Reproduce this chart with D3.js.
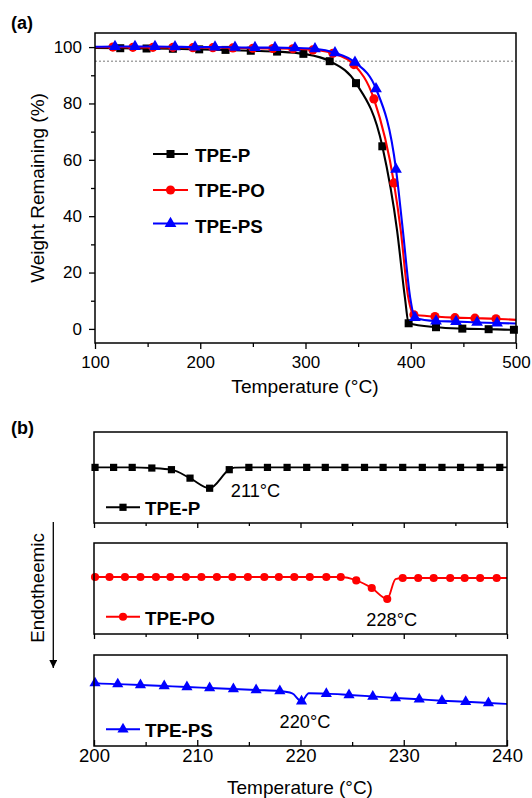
<!DOCTYPE html>
<html>
<head>
<meta charset="utf-8">
<script src="https://cdn.jsdelivr.net/npm/d3@7"></script>
<style>
  body { margin: 0; background: #fff; }
  svg text { font-family: "Liberation Sans", Arial, Helvetica, sans-serif; fill: #000; }
</style>
</head>
<body>
<svg id="fig" width="532" height="798"></svg>
<script>
// ---------- (a) TGA: temperature (°C) vs weight remaining (%) ----------
// marked points
const tgaP_T  = [124, 149, 174, 199, 224, 248, 273, 298, 323, 348, 373, 398, 424, 449, 474, 498];
const tgaP_W  = [99.6, 99.5, 99.4, 99.2, 99.0, 98.7, 98.4, 97.6, 95.0, 87.2, 64.8, 2.0, 0.6, 0.1, -0.1, -0.3];
const tgaPO_T = [117, 136, 155, 174, 193, 212, 231, 250, 269, 288, 307, 326, 346, 365, 384, 403, 423, 442, 461, 481];
const tgaPO_W = [100.0, 99.9, 99.9, 99.9, 99.8, 99.8, 99.7, 99.6, 99.5, 99.4, 99.0, 97.8, 93.8, 81.6, 51.8, 5.0, 4.4, 4.0, 3.8, 3.6];
const tgaPS_T = [119, 138, 157, 176, 195, 214, 233, 252, 271, 290, 309, 328, 347, 367, 386, 404, 424, 443, 463, 482];
const tgaPS_W = [100.2, 100.2, 100.2, 100.1, 100.0, 100.0, 99.9, 99.8, 99.8, 99.7, 99.4, 98.0, 94.6, 85.2, 56.6, 4.0, 2.8, 2.6, 2.3, 2.1];
// unmarked trace points (ends of the scan and the steep decomposition step)
const tgaP_traceT  = [100, 387, 394.5, 500];
const tgaP_traceW  = [99.7, 35, 11, -0.3];
const tgaPO_traceT = [100, 390.5, 397.5, 500];
const tgaPO_traceW = [100.0, 35, 11.5, 3.2];
const tgaPS_traceT = [100, 392.5, 399.5, 500];
const tgaPS_traceW = [100.1, 35, 11, 1.9];

const tgaXTicks = [100, 200, 300, 400, 500];
const tgaXMinor = [150, 250, 350, 450];
const tgaYTicks = [0, 20, 40, 60, 80, 100];
const tgaYMinor = [10, 30, 50, 70, 90];
const tgaRefLevel = 95;

// ---------- (b) DSC: temperature (°C) vs heat flow (a.u.) ----------
const dscP_T  = [200.1, 201.9, 203.7, 205.6, 207.5, 209.3, 211.2, 213.1, 215.0, 216.8, 218.7, 220.6, 222.4, 224.3, 226.2, 228.0, 229.9, 231.8, 233.7, 235.5, 237.4, 239.3];
const dscP_V  = [6.11, 6.11, 6.11, 6.04, 5.86, 4.93, 3.82, 5.86, 6.11, 6.11, 6.11, 6.11, 6.11, 6.11, 6.11, 6.11, 6.11, 6.11, 6.11, 6.11, 6.11, 6.11];
const dscPO_T = [200.1, 201.5, 203.0, 204.5, 206.0, 207.4, 208.9, 210.4, 211.9, 213.4, 214.9, 216.5, 217.9, 219.4, 220.9, 222.5, 223.9, 225.4, 226.9, 228.4, 229.9, 231.4, 232.9, 234.5, 235.9, 237.4, 239.0];
const dscPO_V = [6.26, 6.26, 6.26, 6.26, 6.26, 6.26, 6.26, 6.26, 6.26, 6.26, 6.26, 6.26, 6.26, 6.26, 6.26, 6.26, 6.26, 5.89, 5.05, 3.85, 6.15, 6.15, 6.15, 6.15, 6.15, 6.15, 6.15];
const dscPS_T = [200.1, 202.3, 204.5, 206.8, 209.0, 211.2, 213.5, 215.7, 218.0, 220.1, 222.5, 224.7, 227.0, 229.2, 231.5, 233.7, 236.0, 238.2];
const dscPS_V = [6.91, 6.80, 6.70, 6.59, 6.48, 6.37, 6.26, 6.15, 6.04, 4.91, 5.75, 5.61, 5.45, 5.28, 5.13, 4.98, 4.87, 4.73];
const dscP_traceT  = [200, 213.6, 240];
const dscP_traceV  = [6.11, 6.08, 6.11];
const dscPO_traceT = [200, 229.2, 240];
const dscPO_traceV = [6.26, 6.02, 6.15];
const dscPS_traceT = [200, 219.2, 220.8, 240];
const dscPS_traceV = [6.92, 5.78, 5.80, 4.62];
const dscPeaks = ["211°C", "228°C", "220°C"];

const dscXTicks = [200, 210, 220, 230, 240];
const dscXMinor = [205, 215, 225, 235];

const names  = ["TPE-P", "TPE-PO", "TPE-PS"];
const colors = ["#000000", "#ff0000", "#0000ff"];

// ---------- helpers ----------
const svg = d3.select("#fig");
const symbols = [d3.symbolSquare, d3.symbolCircle, d3.symbolTriangle];

function tracePoints(mT, mV, tT, tV) {
  const pts = mT.map((t, i) => [t, mV[i]]).concat(tT.map((t, i) => [t, tV[i]]));
  return pts.sort((a, b) => a[0] - b[0]);
}

function drawSeries(g, x, y, pts, marks, color, sym, size, width) {
  const line = d3.line().x(d => x(d[0])).y(d => y(d[1])).curve(d3.curveMonotoneX);
  g.append("path").datum(pts)
    .attr("d", line).attr("fill", "none")
    .attr("stroke", color).attr("stroke-width", width).attr("stroke-linejoin", "round");
  g.selectAll(null).data(marks).enter().append("path")
    .attr("transform", d => `translate(${x(d[0])},${y(d[1])})`)
    .attr("d", d3.symbol().type(sym).size(size))
    .attr("fill", color);
}

function styleAxis(g, fontSize) {
  g.select(".domain").remove();
  g.selectAll(".tick line").attr("stroke", "#000").attr("stroke-width", 1.3);
  g.selectAll(".tick text").attr("font-size", fontSize).attr("fill", "#000")
    .style("font-family", "'Liberation Sans', Arial, sans-serif");
}

// ---------- panel (a) ----------
const A = { left: 95, right: 516, top: 33, bottom: 343 };
const xA = d3.scaleLinear().domain([100, 500]).range([A.left, A.right]);
const yA = d3.scaleLinear().domain([-5, 105]).range([A.bottom, A.top]);

svg.append("text").attr("x", 11).attr("y", 28.5)
  .attr("font-size", 18).attr("font-weight", "bold").text("(a)");

// reference level (95 % weight)
svg.append("line")
  .attr("x1", A.left).attr("x2", A.right)
  .attr("y1", yA(tgaRefLevel)).attr("y2", yA(tgaRefLevel))
  .attr("stroke", "#777").attr("stroke-width", 1).attr("stroke-dasharray", "2,2");

const gxA = svg.append("g").attr("transform", `translate(0,${A.bottom})`)
  .call(d3.axisBottom(xA).tickValues(tgaXTicks).tickSize(6).tickPadding(7));
styleAxis(gxA, 17);
const gxAm = svg.append("g").attr("transform", `translate(0,${A.bottom})`)
  .call(d3.axisBottom(xA).tickValues(tgaXMinor).tickSize(4).tickFormat(""));
styleAxis(gxAm, 17);
const gyA = svg.append("g").attr("transform", `translate(${A.left},0)`)
  .call(d3.axisLeft(yA).tickValues(tgaYTicks).tickSize(6).tickPadding(7));
styleAxis(gyA, 17);
const gyAm = svg.append("g").attr("transform", `translate(${A.left},0)`)
  .call(d3.axisLeft(yA).tickValues(tgaYMinor).tickSize(4).tickFormat(""));
styleAxis(gyAm, 17);

const tga = [
  [tgaP_T, tgaP_W, tgaP_traceT, tgaP_traceW],
  [tgaPO_T, tgaPO_W, tgaPO_traceT, tgaPO_traceW],
  [tgaPS_T, tgaPS_W, tgaPS_traceT, tgaPS_traceW]
];
const tgaSizes = [64, 66, 60];
const gA = svg.append("g");
tga.forEach((s, i) => {
  const marks = s[0].map((t, k) => [t, s[1][k]]);
  drawSeries(gA, xA, yA, tracePoints(s[0], s[1], s[2], s[3]), marks, colors[i], symbols[i], tgaSizes[i], 2.1);
});

svg.append("rect").attr("x", A.left).attr("y", A.top)
  .attr("width", A.right - A.left).attr("height", A.bottom - A.top)
  .attr("fill", "none").attr("stroke", "#000").attr("stroke-width", 1.5);

// legend (a)
const legA_y = [154, 190, 223.5];
const legA_base = [162, 196.5, 232.5];
names.forEach((n, i) => {
  svg.append("line").attr("x1", 153).attr("x2", 188).attr("y1", legA_y[i]).attr("y2", legA_y[i])
    .attr("stroke", colors[i]).attr("stroke-width", 2.1);
  svg.append("path").attr("transform", `translate(170.5,${legA_y[i]})`)
    .attr("d", d3.symbol().type(symbols[i]).size(tgaSizes[i])).attr("fill", colors[i]);
  svg.append("text").attr("x", 195).attr("y", legA_base[i])
    .attr("font-size", 18.8).attr("font-weight", "bold").text(n);
});

svg.append("text").attr("x", 305).attr("y", 393)
  .attr("text-anchor", "middle").attr("font-size", 19.2).text("Temperature (°C)");
svg.append("text").attr("transform", `translate(43.5,${(A.top + A.bottom) / 2}) rotate(-90)`)
  .attr("text-anchor", "middle").attr("font-size", 19).text("Weight Remaining (%)");

// ---------- panel (b) ----------
svg.append("text").attr("x", 11).attr("y", 434)
  .attr("font-size", 18).attr("font-weight", "bold").text("(b)");

const B = { left: 94, right: 507 };
const bTops = [432, 543, 655];
const bH = 91;
const xB = d3.scaleLinear().domain([200, 240]).range([B.left, B.right]);

const dsc = [
  [dscP_T, dscP_V, dscP_traceT, dscP_traceV],
  [dscPO_T, dscPO_V, dscPO_traceT, dscPO_traceV],
  [dscPS_T, dscPS_V, dscPS_traceT, dscPS_traceV]
];
const dscSizes = [52, 52, 54];
const legB_y = [507.3, 616.7, 729.3];
const legB_base = [515, 625, 736.5];
const peakLabelBase = [497.3, 626, 728.3];
const peakLabelX = [255.5, 391.7, 305];

dsc.forEach((s, i) => {
  const top = bTops[i], bottom = top + bH;
  const yB = d3.scaleLinear().domain([0, 10]).range([bottom, top]);
  const last = i === 2;

  const gx = svg.append("g").attr("transform", `translate(0,${bottom})`)
    .call(d3.axisBottom(xB).tickValues(dscXTicks).tickSize(last ? -6 : 5).tickFormat(last ? d3.format("d") : ""));
  styleAxis(gx, 18.5);
  if (last) gx.selectAll(".tick text").attr("y", 3.3).attr("dy", "0.71em");
  const gxm = svg.append("g").attr("transform", `translate(0,${bottom})`)
    .call(d3.axisBottom(xB).tickValues(dscXMinor).tickSize(last ? -4 : 3).tickFormat(""));
  styleAxis(gxm, 18.5);

  const g = svg.append("g");
  const marks = s[0].map((t, k) => [t, s[1][k]]);
  drawSeries(g, xB, yB, tracePoints(s[0], s[1], s[2], s[3]), marks, colors[i], symbols[i], dscSizes[i], 1.9);

  svg.append("rect").attr("x", B.left).attr("y", top)
    .attr("width", B.right - B.left).attr("height", bH)
    .attr("fill", "none").attr("stroke", "#000").attr("stroke-width", 1.5);

  // legend entry
  svg.append("line").attr("x1", 106).attr("x2", 140).attr("y1", legB_y[i]).attr("y2", legB_y[i])
    .attr("stroke", colors[i]).attr("stroke-width", 1.9);
  svg.append("path").attr("transform", `translate(123,${legB_y[i]})`)
    .attr("d", d3.symbol().type(symbols[i]).size(dscSizes[i])).attr("fill", colors[i]);
  svg.append("text").attr("x", 145).attr("y", legB_base[i])
    .attr("font-size", 18.8).attr("font-weight", "bold").text(names[i]);

  // melting peak label
  svg.append("text").attr("x", peakLabelX[i]).attr("y", peakLabelBase[i])
    .attr("text-anchor", "middle").attr("font-size", 18.2).text(dscPeaks[i]);
});

svg.append("text").attr("x", 300).attr("y", 794)
  .attr("text-anchor", "middle").attr("font-size", 19).text("Temperature (°C)");

// endothermic direction arrow
svg.append("defs").append("marker")
  .attr("id", "arrowHead").attr("viewBox", "0 0 10 10")
  .attr("refX", 10).attr("refY", 5)
  .attr("markerWidth", 8).attr("markerHeight", 8).attr("markerUnits", "userSpaceOnUse")
  .attr("orient", "auto")
  .append("path").attr("d", "M0,0 L10,5 L0,10 Z").attr("fill", "#000");
svg.append("line").attr("x1", 53.3).attr("x2", 53.3).attr("y1", 522).attr("y2", 668)
  .attr("stroke", "#000").attr("stroke-width", 1.3).attr("marker-end", "url(#arrowHead)");
svg.append("text").attr("transform", "translate(44,588) rotate(-90)")
  .attr("text-anchor", "middle").attr("font-size", 18.8).text("Endotheemic");
</script>
</body>
</html>
